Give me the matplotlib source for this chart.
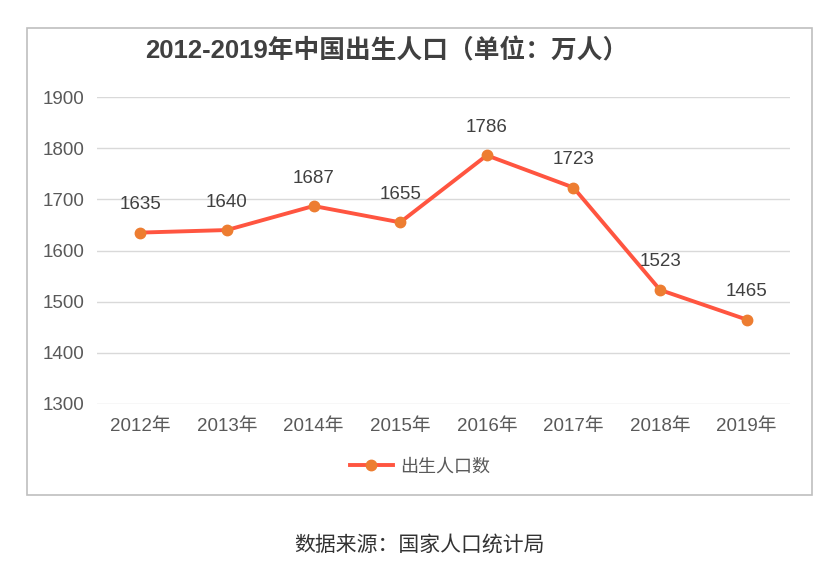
import matplotlib
matplotlib.use("Agg")
import matplotlib.pyplot as plt
from matplotlib.patches import Rectangle

plt.rcParams['font.family'] = ['Liberation Sans', 'Noto Sans CJK SC', 'DejaVu Sans']

years = ['2012年', '2013年', '2014年', '2015年', '2016年', '2017年', '2018年', '2019年']
births = [1635, 1640, 1687, 1655, 1786, 1723, 1523, 1465]
y_ticks = [1300, 1400, 1500, 1600, 1700, 1800, 1900]

W, H = 825, 569
fig = plt.figure(figsize=(W / 100., H / 100.), dpi=100)

# outer chart frame
fig.patches.append(Rectangle((27. / W, 1 - 495. / H), (812. - 27.) / W,
                             (495. - 28.) / H, transform=fig.transFigure,
                             fill=False, edgecolor='#BFBFBF', linewidth=1.2))

axs = fig.add_axes([97. / W, 1 - 404. / H, (790. - 97.) / W, (404. - 97.) / H])
xs = range(len(years))
axs.plot(xs, births, color='#FF5540', linewidth=2.8, marker='o',
         markersize=7.5, markerfacecolor='#ED7D31', markeredgecolor='#ED7D31',
         label='出生人口数', zorder=3)

for x, v in zip(xs, births):
  axs.annotate(str(v), xy=(x, v), xytext=(0, 14), textcoords='offset points',
               ha='center', va='bottom', fontsize=13.5, color='#404040')

axs.set_xlim(-0.5, len(years) - 0.5)
axs.set_ylim(1300, 1900)
axs.set_yticks(y_ticks)
axs.set_xticks(list(xs))
axs.set_xticklabels(years)
axs.grid(axis='y', color='#D9D9D9', linewidth=1)
axs.set_axisbelow(True)
for side in ['top', 'right', 'left', 'bottom']:
  axs.spines[side].set_visible(False)
axs.tick_params(axis='both', length=0, labelsize=13.5, labelcolor='#595959')
axs.tick_params(axis='y', pad=9)
axs.tick_params(axis='x', pad=10)

fig.text(387. / W, 1 - 51. / H, '2012-2019年中国出生人口（单位：万人）',
         ha='center', va='center', fontsize=18.5, fontweight='bold',
         color='#404040')

axs.legend(loc='center', bbox_to_anchor=(420. / W, 1 - 467. / H),
           bbox_transform=fig.transFigure, frameon=False, fontsize=13,
           labelcolor='#595959', handlelength=2.4, handletextpad=0.4)

fig.text(419. / W, 1 - 545. / H, '数据来源：国家人口统计局', ha='center',
         va='center', fontsize=15, color='#333333')

plt.savefig('out.png', dpi=100)
plt.close()
